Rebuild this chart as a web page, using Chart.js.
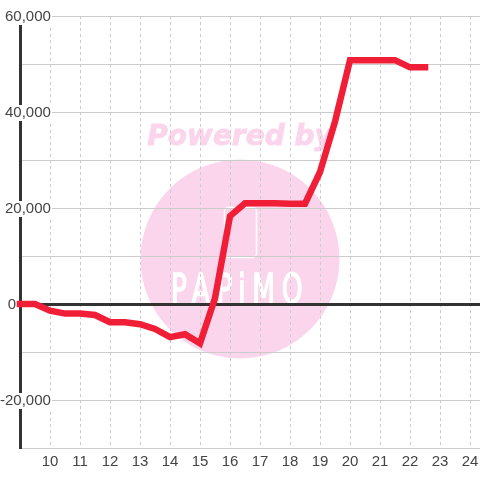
<!DOCTYPE html>
<html>
<head>
<meta charset="utf-8">
<style>
html, body { margin: 0; padding: 0; background: #fff; }
#wrap { width: 480px; height: 480px; }
</style>
<script src="https://cdn.jsdelivr.net/npm/chart.js@4/dist/chart.umd.min.js"></script>
</head>
<body>
<div id="wrap"><canvas id="chart" width="480" height="480"></canvas></div>
<script>
var hours = [9, 9.5, 10, 10.5, 11, 11.5, 12, 12.5, 13, 13.5, 14, 14.5, 15, 15.5, 16, 16.5, 17, 17.5, 18, 18.5, 19, 19.5, 20, 20.5, 21, 21.5, 22, 22.5];
var values = [0, 0, -1400, -2000, -2000, -2300, -3800, -3800, -4200, -5200, -6900, -6300, -8200, 1200, 18300, 21000, 21000, 21000, 20900, 20900, 27500, 38000, 50800, 50800, 50800, 50800, 49300, 49300];
var yLabelValues = [60000, 40000, 20000, 0, -20000];
var watermarkTitle = "Powered by";
var watermarkName = "PAPiMO";

// pink logo sits behind the grid
var watermark = {
    id: "watermark",
    beforeDraw: function(chart) {
        var c = chart.ctx;
        c.save();
        c.fillStyle = "#fbd5ec";
        c.beginPath();
        c.arc(240, 259, 99.5, 0, Math.PI * 2);
        c.fill();

        c.font = "italic bold 28px 'DejaVu Sans'";
        c.textAlign = "center";
        c.textBaseline = "alphabetic";
        c.strokeStyle = "#fbd5ec";
        c.lineWidth = 0.8;
        c.fillText(watermarkTitle, 240, 145);
        c.strokeText(watermarkTitle, 240, 145);

        c.strokeStyle = "#fff";
        c.lineWidth = 1.5;
        c.beginPath();
        c.roundRect(224.5, 207.5, 32, 50, 4);
        c.stroke();

        c.fillStyle = "#fff";
        c.save();
        c.translate(240, 303);
        c.scale(0.66, 1);
        c.font = "40px 'DejaVu Sans'";
        c.letterSpacing = "10px";
        c.lineWidth = 1.5;
        c.fillText(watermarkName, 0, 0);
        c.strokeText(watermarkName, 0, 0);
        c.restore();
        c.restore();
    }
};

// the zero label sits further left than the others
var zeroLabel = {
    id: "zeroLabel",
    afterDraw: function(chart) {
        var c = chart.ctx;
        c.save();
        c.font = "15px 'Liberation Sans'";
        c.fillStyle = "#444";
        c.textAlign = "right";
        c.textBaseline = "middle";
        c.fillText("0", 16, chart.scales.y.getPixelForValue(0) + 1);
        c.restore();
    }
};

var ctx = document.getElementById("chart");
var myChart = new Chart(ctx, {
    type: "line",
    data: {
        labels: hours,
        datasets: [{
            data: values,
            borderColor: "#f01f37",
            borderWidth: 6.5,
            borderCapStyle: "square",
            borderJoinStyle: "miter",
            pointRadius: 0,
            tension: 0,
            fill: false,
            clip: false
        }]
    },
    options: {
        responsive: false,
        animation: false,
        layout: { padding: { top: 16, bottom: 0, left: 0, right: 0 } },
        plugins: { legend: { display: false }, tooltip: { enabled: false } },
        scales: {
            x: {
                type: "linear",
                min: 9,
                max: 24.333,
                afterBuildTicks: function(axis) {
                    var t = [];
                    for (var h = 10; h <= 24; h++) t.push({ value: h });
                    axis.ticks = t;
                },
                afterFit: function(axis) {
                    axis.height = 32;
                    // plot runs right up to the canvas edge
                    axis.paddingLeft = 0;
                    axis.paddingRight = 0;
                },
                border: { display: false, dash: [3, 3] },
                grid: { color: "#ccc", drawTicks: false, lineWidth: 1 },
                ticks: {
                    autoSkip: false,
                    maxRotation: 0,
                    color: "#444",
                    font: { family: "'Liberation Sans'", size: 15 },
                    padding: 5,
                    callback: function(v) { return String(v); }
                }
            },
            y: {
                min: -30000,
                max: 60000,
                afterBuildTicks: function(axis) {
                    var t = [];
                    for (var v = 60000; v >= -30000; v -= 10000) t.push({ value: v });
                    axis.ticks = t;
                },
                afterFit: function(axis) { axis.width = 20; },
                border: { display: true, color: "#333", width: 3 },
                grid: {
                    drawTicks: false,
                    color: function(c) { return c.tick && c.tick.value === 0 ? "#333" : "#ccc"; },
                    lineWidth: function(c) { return c.tick && c.tick.value === 0 ? 3 : 1; }
                },
                ticks: {
                    autoSkip: false,
                    mirror: true,
                    crossAlign: "far",
                    labelOffset: 1,
                    color: "#444",
                    font: { family: "'Liberation Sans'", size: 15 },
                    padding: -20,
                    showLabelBackdrop: function(c) { return yLabelValues.indexOf(c.tick.value) >= 0 && c.tick.value !== 0; },
                    backdropColor: "#fff",
                    backdropPadding: { top: -1, bottom: -1, left: 1, right: 1 },
                    callback: function(v) {
                        if (v === 0 || yLabelValues.indexOf(v) < 0) return "";
                        return v.toLocaleString("en-US");
                    }
                }
            }
        }
    },
    plugins: [watermark, zeroLabel]
});
</script>
</body>
</html>
